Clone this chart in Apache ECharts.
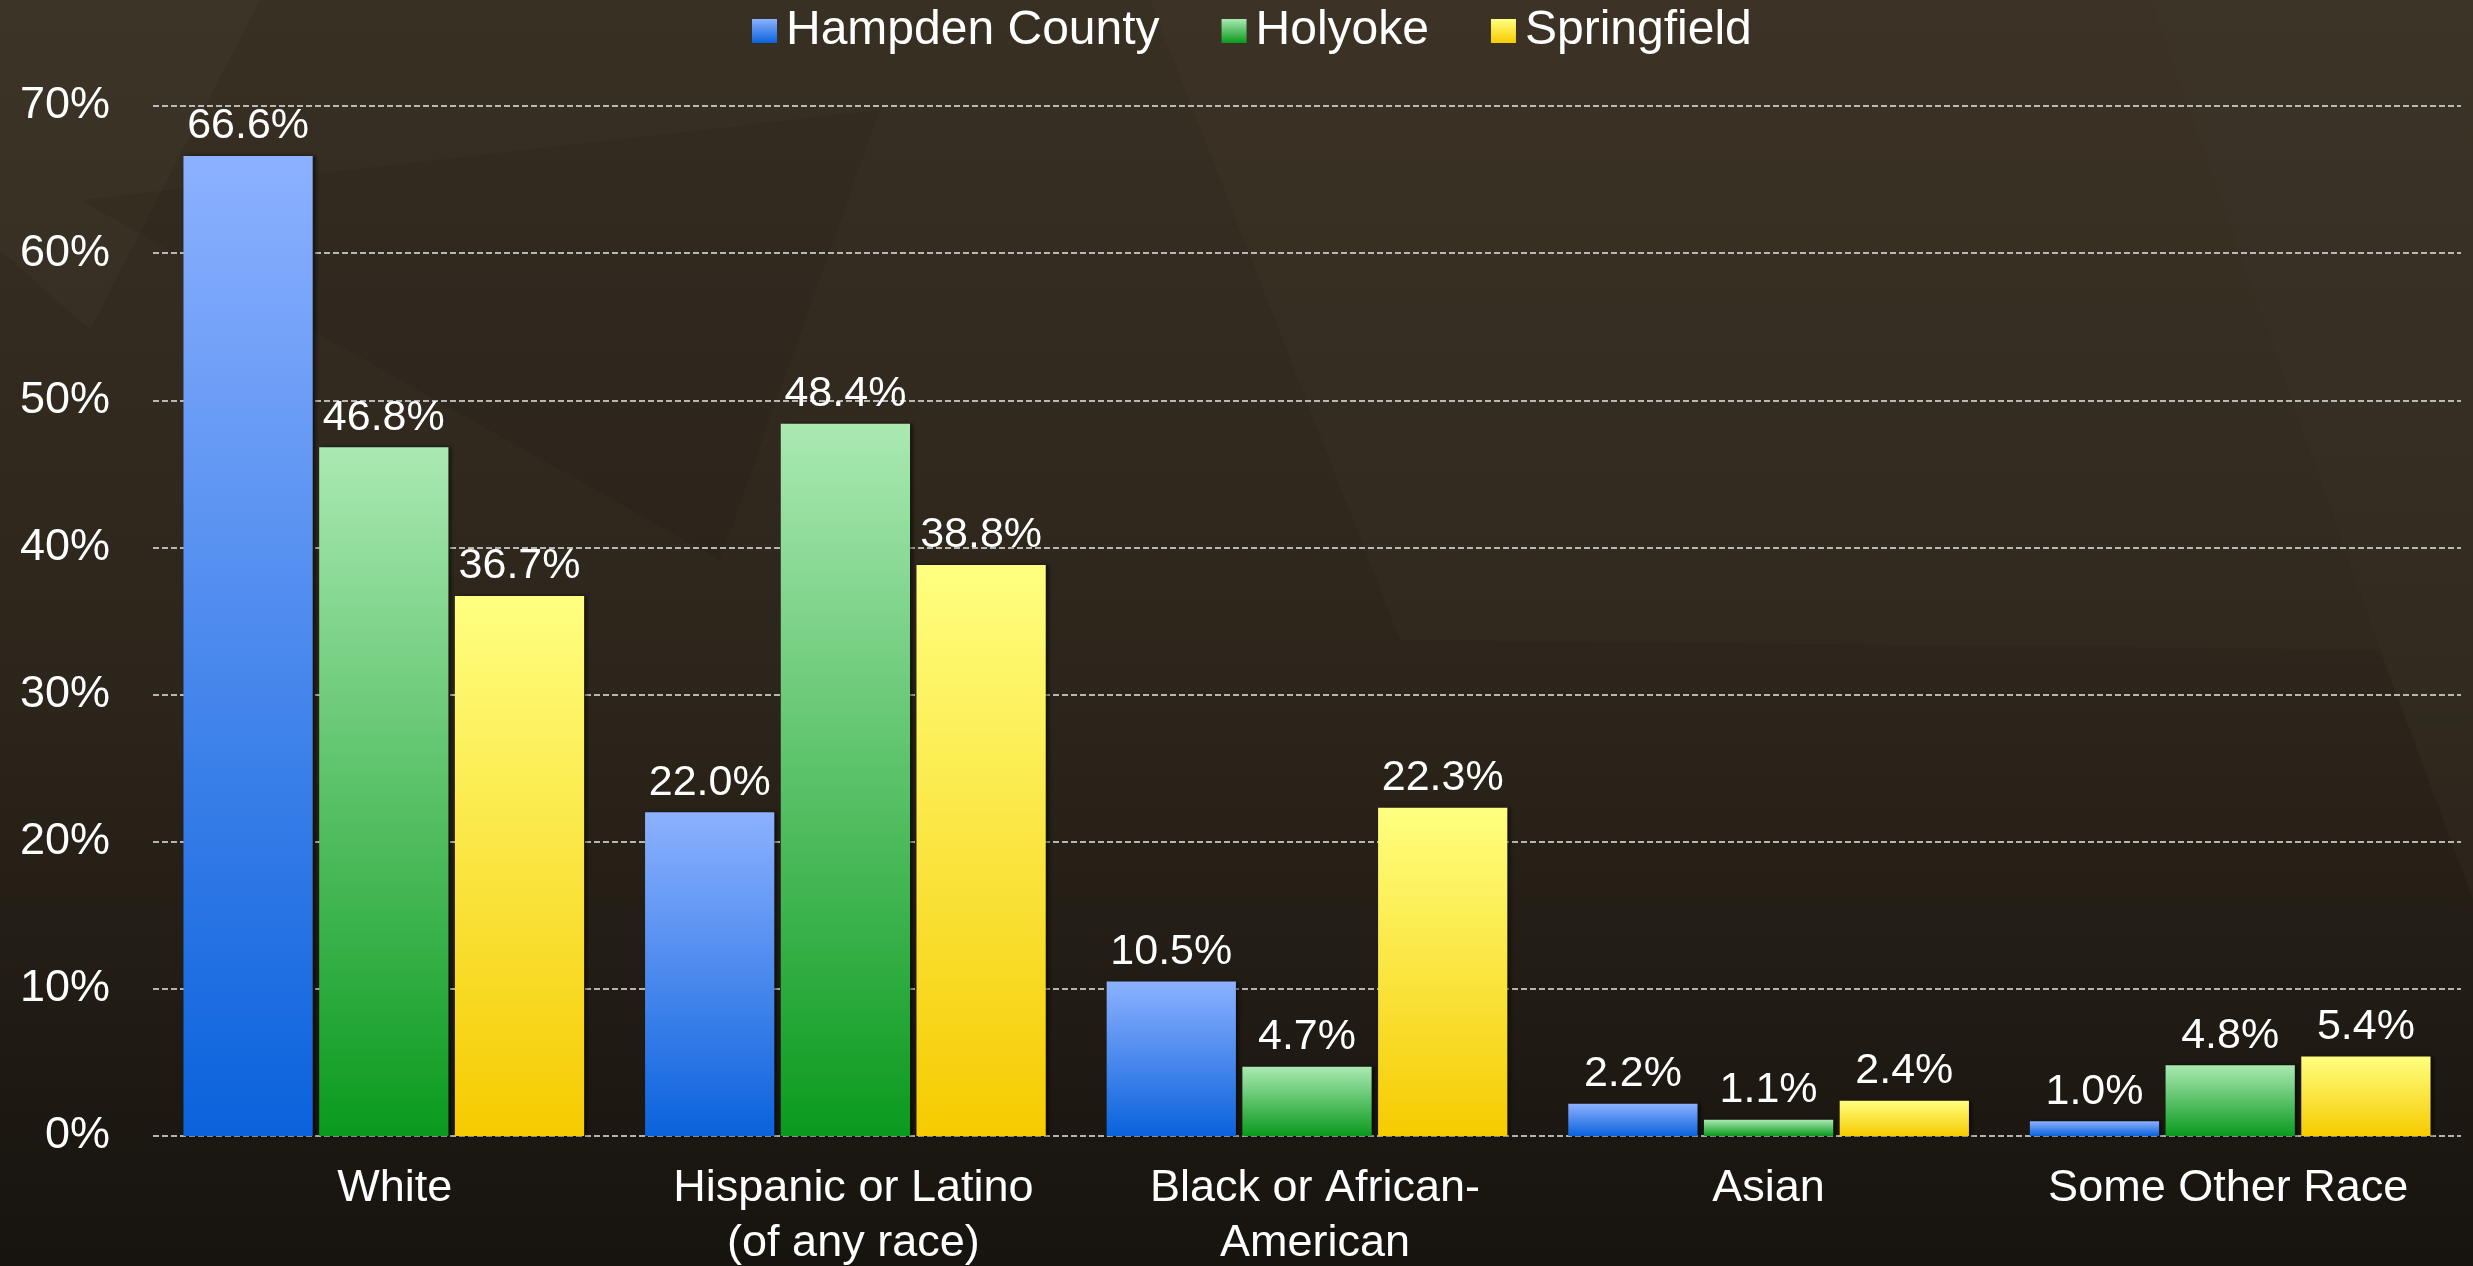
<!DOCTYPE html>
<html>
<head>
<meta charset="utf-8">
<script src="https://cdn.jsdelivr.net/npm/echarts@6/dist/echarts.min.js"></script>
<style>
  html, body { margin: 0; padding: 0; background: #241f17; }
  #chart { width: 2473px; height: 1266px; }
</style>
</head>
<body>
<div id="chart"></div>
<script>
// Population by race / ethnicity
const categories = [
  'White',
  'Hispanic or Latino\n(of any race)',
  'Black or African-\nAmerican',
  'Asian',
  'Some Other Race'
];
const seriesNames = ['Hampden County', 'Holyoke', 'Springfield'];
const hampdenCounty = [66.6, 22.0, 10.5, 2.2, 1.0];
const holyoke = [46.8, 48.4, 4.7, 1.1, 4.8];
const springfield = [36.7, 38.8, 22.3, 2.4, 5.4];
const yTicks = { min: 0, max: 70, interval: 10 };

const FONT = '"Liberation Sans", Arial, Helvetica, sans-serif';

// horizontal nudge (px) of each category caption
const captionShift = [11, 8, 8, 0, -2];

function vGrad(top, bottom) {
  return new echarts.graphic.LinearGradient(0, 0, 0, 1, [
    { offset: 0, color: top },
    { offset: 1, color: bottom }
  ]);
}

const palettes = [
  ['#8cb1ff', '#0a62dc'],
  ['#aae9b2', '#0a9a1e'],
  ['#ffff80', '#f6cb00']
];

function barSeries(name, data, pal) {
  return {
    name: name,
    type: 'bar',
    data: data,
    barWidth: '28%',
    barGap: '5%',
    itemStyle: {
      color: vGrad(pal[0], pal[1]),
      shadowColor: 'rgba(0,0,0,0.55)',
      shadowBlur: 4,
      shadowOffsetX: 3
    },
    label: {
      show: true,
      position: 'top',
      distance: 8,
      color: '#ffffff',
      fontFamily: FONT,
      fontSize: 43,
      lineHeight: 43,
      formatter: p => p.value.toFixed(1) + '%'
    },
    emphasis: { disabled: true }
  };
}

const categoryData = categories.map((c, i) => {
  const s = captionShift[i];
  return {
    value: c,
    textStyle: { padding: s >= 0 ? [0, 0, 0, 2 * s] : [0, -2 * s, 0, 0] }
  };
});

const chart = echarts.init(document.getElementById('chart'), null, { renderer: 'canvas' });

chart.setOption({
  animation: false,
  backgroundColor: new echarts.graphic.LinearGradient(0, 0, 0, 1, [
    { offset: 0, color: '#393024' },
    { offset: 0.55, color: '#2c251b' },
    { offset: 1, color: '#17130e' }
  ]),
  graphic: [
    // faint angular shapes in the backdrop
    { type: 'polygon', silent: true, z: -10,
      shape: { points: [[0, 0], [260, 0], [90, 330], [0, 250]] },
      style: { fill: 'rgba(255,240,210,0.02)' } },
    { type: 'polygon', silent: true, z: -10,
      shape: { points: [[80, 200], [880, 110], [720, 560]] },
      style: { fill: 'rgba(0,0,0,0.06)' } },
    { type: 'polygon', silent: true, z: -10,
      shape: { points: [[1150, 0], [2150, 0], [2380, 650], [1400, 640]] },
      style: { fill: 'rgba(255,240,210,0.015)' } },
    { type: 'polygon', silent: true, z: -10,
      shape: { points: [[2150, 0], [2473, 0], [2473, 900], [2380, 650]] },
      style: { fill: 'rgba(255,240,210,0.025)' } }
  ],
  legend: {
    data: seriesNames,
    left: 752,
    top: 6,
    padding: 0,
    itemGap: 62,
    itemWidth: 25,
    itemHeight: 24,
    icon: 'rect',
    textStyle: {
      color: '#ffffff',
      fontFamily: FONT,
      fontSize: 48,
      lineHeight: 50,
      padding: [0, 0, 0, 4]
    }
  },
  grid: {
    left: 153,
    right: 12,
    top: 106,
    bottom: 130,
    containLabel: false,
    outerBoundsMode: 'none'
  },
  xAxis: {
    type: 'category',
    data: categoryData,
    axisLine: { show: false },
    axisTick: { show: false },
    axisLabel: {
      color: '#ffffff',
      fontFamily: FONT,
      fontSize: 45,
      lineHeight: 55,
      margin: 25,
      interval: 0
    }
  },
  yAxis: {
    type: 'value',
    min: yTicks.min,
    max: yTicks.max,
    interval: yTicks.interval,
    axisLine: { show: false },
    axisTick: { show: false },
    axisLabel: {
      color: '#ffffff',
      fontFamily: FONT,
      fontSize: 45,
      margin: 43,
      padding: [12, 0, 0, 0],
      formatter: '{value}%'
    },
    splitLine: {
      show: true,
      lineStyle: { color: '#e6e6e6', width: 1.5, type: [6, 3] }
    }
  },
  series: [
    barSeries(seriesNames[0], hampdenCounty, palettes[0]),
    barSeries(seriesNames[1], holyoke, palettes[1]),
    barSeries(seriesNames[2], springfield, palettes[2])
  ]
});
</script>
</body>
</html>
